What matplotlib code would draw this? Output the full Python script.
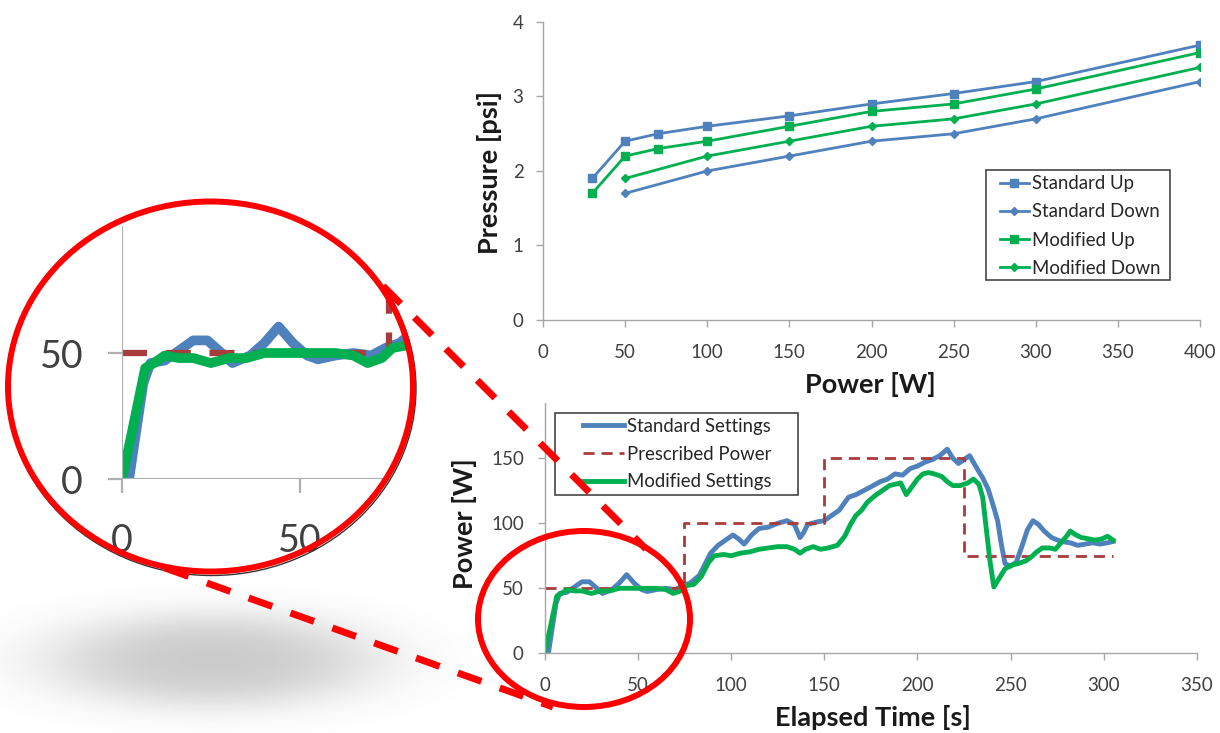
import numpy as np
import matplotlib
matplotlib.use('Agg')
import matplotlib.pyplot as plt
from matplotlib.patches import Ellipse, Rectangle
from matplotlib.lines import Line2D

plt.rcParams['font.family'] = ['Lato', 'DejaVu Sans']

# ---------------- data: pressure vs power ----------------
power_std_up = [30, 50, 70, 100, 150, 200, 250, 300, 400]
pres_std_up = [1.9, 2.4, 2.5, 2.6, 2.74, 2.9, 3.04, 3.2, 3.69]
power_std_down = [50, 100, 150, 200, 250, 300, 400]
pres_std_down = [1.7, 2.0, 2.2, 2.4, 2.5, 2.7, 3.2]
power_mod_up = [30, 50, 70, 100, 150, 200, 250, 300, 400]
pres_mod_up = [1.7, 2.2, 2.3, 2.4, 2.6, 2.8, 2.9, 3.1, 3.59]
power_mod_down = [50, 100, 150, 200, 250, 300, 400]
pres_mod_down = [1.9, 2.2, 2.4, 2.6, 2.7, 2.9, 3.39]

# ---------------- data: power vs elapsed time ----------------
time_std = [0, 2, 6, 8, 12, 16, 20, 24, 28, 31, 36, 40, 44, 48, 52, 55, 60, 65, 70, 74,
            78, 83, 89, 93, 97, 101, 104, 107, 111, 115, 120, 125, 130, 134, 137, 139, 141, 146, 150, 154,
            158, 163, 167, 171, 175, 180, 184, 188, 192, 196, 200, 204, 208, 212, 216, 219, 222, 225, 228, 232,
            235, 238, 241, 243, 245, 247, 250, 253, 256, 259, 262, 265, 268, 272, 277, 282, 286, 290, 294, 298,
            302, 305]
power_std = [0, 0, 38, 46, 47, 51, 55, 55, 50, 46, 49, 54, 60.5, 54, 49, 47.5, 49, 50, 49, 52,
             54, 60, 77, 83, 87, 91, 88, 84, 91, 96, 97, 100, 102, 99, 89, 93, 99, 101, 102, 106,
             110, 120, 122, 125, 128, 132, 134, 138, 137, 142, 144, 147, 149, 152, 157, 150, 146, 149, 152, 142,
             135, 126, 112, 102, 84, 69, 67, 70, 82, 95, 102, 99, 94, 89, 86, 85, 83, 84, 85, 84,
             85, 86]
time_mod = [0, 3, 6.5, 9, 12, 16, 20, 25, 30, 35, 40, 45, 50, 55, 60, 65, 69, 73, 76, 80,
            84, 88, 91, 96, 100, 105, 110, 115, 120, 125, 130, 134, 137, 140, 144, 148, 152, 157, 161, 164,
            167, 170, 173, 177, 181, 185, 188, 191, 194, 197, 200, 203, 206, 209, 213, 216, 219, 223, 227, 230,
            233, 235, 237, 239, 241, 244, 247, 251, 254, 258, 261, 264, 267, 271, 274, 277, 280, 282, 285, 288,
            292, 295, 299, 302, 305]
power_mod = [0, 20, 44, 46, 49, 48, 48, 46, 48, 48, 50, 50, 50, 50, 50, 49, 46, 48, 52, 53,
             59, 70, 75, 76, 75, 77, 78, 80, 81, 82, 82, 80, 77, 80, 82, 80, 81, 83, 90, 99,
             106, 110, 116, 121, 125, 129, 130, 131, 122, 128, 134, 138, 139, 138, 136, 132, 129, 129, 131, 134,
             130, 120, 95, 70, 51, 58, 65, 68, 69, 71, 74, 78, 81, 81, 80, 85, 90, 94, 91, 89,
             88, 87, 88, 90, 87]
time_presc = [0, 75, 75, 150, 150, 225, 225, 305]
power_presc = [50, 50, 100, 100, 150, 150, 75, 75]

BLUE = '#4F81BD'
GREEN = '#00B050'
DRED = '#A83C3C'
AXC = '#A6A6A6'
TXT = '#404040'
LBL = '#1a1a1a'

W, H = 1220, 733
fig = plt.figure(figsize=(W / 100, H / 100), dpi=100)
fig.patch.set_facecolor('white')


def fx(px):
    return px / W


def fy(py):
    return 1 - py / H


def style_axes(ax, fs=13.5, pad=9):
    for s in ['top', 'right']:
        ax.spines[s].set_visible(False)
    for s in ['left', 'bottom']:
        ax.spines[s].set_color(AXC)
        ax.spines[s].set_linewidth(1.0)
    ax.tick_params(direction='out', length=5, width=1, color=AXC,
                   labelcolor=TXT, labelsize=fs, pad=pad)
    ax.patch.set_visible(False)


def frame_box(x0, y0, x1, y1):
    fig.add_artist(Rectangle((fx(x0), fy(y1)), (x1 - x0) / W, (y1 - y0) / H,
                             transform=fig.transFigure, fill=False,
                             edgecolor='#454545', lw=1.2, zorder=3))


# ---------------- shadow (decoration) ----------------
sw, sh = 480, 180
yy, xx = np.mgrid[0:sh, 0:sw]
d = np.sqrt(((xx - 212) / 168.0) ** 2 + ((yy - 100) / 48.0) ** 2)
alpha = 0.36 * np.exp(-d ** 3)
img = np.zeros((sh, sw, 4))
img[..., :3] = 0.45
img[..., 3] = alpha
fig.figimage(img, xo=0, yo=H - 560 - sh, origin='upper', zorder=0)

# ---------------- top chart ----------------
ax1 = fig.add_axes([fx(543), fy(320), fx(1200 - 543), (320 - 22) / H])
style_axes(ax1)
l1, = ax1.plot(power_std_up, pres_std_up, color=BLUE, lw=2, marker='s', ms=6, label='Standard Up')
l2, = ax1.plot(power_std_down, pres_std_down, color=BLUE, lw=2, marker='D', ms=4.5, label='Standard Down')
l3, = ax1.plot(power_mod_up, pres_mod_up, color=GREEN, lw=2, marker='s', ms=6, label='Modified Up')
l4, = ax1.plot(power_mod_down, pres_mod_down, color=GREEN, lw=2, marker='D', ms=4.5, label='Modified Down')
ax1.set_xlim(0, 400)
ax1.set_ylim(0, 4)
ax1.set_xticks(range(0, 401, 50))
ax1.set_yticks(range(0, 5))
ax1.tick_params(axis='x', pad=12)
ax1.set_xlabel('Power [W]', fontsize=19.5, fontweight='bold', color=LBL)
ax1.xaxis.set_label_coords(fx(870), fy(372), transform=fig.transFigure)
ax1.set_ylabel('Pressure [psi]', fontsize=19.5, fontweight='bold', color=LBL)
ax1.yaxis.set_label_coords(fx(502), fy(172), transform=fig.transFigure)
leg1 = ax1.legend(handles=[l1, l2, l3, l4], loc='center left',
                  bbox_to_anchor=(fx(1000), fy(226)), bbox_transform=fig.transFigure,
                  borderaxespad=0, borderpad=0, frameon=False,
                  fontsize=13.4, handlelength=1.55, handletextpad=0.15, labelspacing=0.6)
for t in leg1.get_texts():
    t.set_color('#262626')
frame_box(985.7, 170, 1170, 280)

# ---------------- bottom chart ----------------
ax2 = fig.add_axes([fx(544.7), fy(653.3), fx(1197 - 544.7), (653.3 - 403) / H])
style_axes(ax2, pad=10)
b1, = ax2.plot(time_std, power_std, color=BLUE, lw=3.5, label='Standard Settings')
b2, = ax2.plot(time_presc, power_presc, color=DRED, lw=2, linestyle=(0, (4, 2.5)), label='Prescribed Power')
b3, = ax2.plot(time_mod, power_mod, color=GREEN, lw=3.5, label='Modified Settings')
ax2.set_xlim(0, 350)
ax2.set_ylim(0, 192.5)
ax2.set_xticks(range(0, 351, 50))
ax2.set_yticks([0, 50, 100, 150])
ax2.tick_params(axis='x', pad=12)
ax2.set_xlabel('Elapsed Time [s]', fontsize=19.5, fontweight='bold', color=LBL)
ax2.xaxis.set_label_coords(fx(873), fy(705), transform=fig.transFigure)
ax2.set_ylabel('Power [W]', fontsize=19.5, fontweight='bold', color=LBL)
ax2.yaxis.set_label_coords(fx(477), fy(524), transform=fig.transFigure)
leg2 = ax2.legend(handles=[b1, b2, b3], loc='center left',
                  bbox_to_anchor=(fx(583), fy(454)), bbox_transform=fig.transFigure,
                  borderaxespad=0, borderpad=0, frameon=False,
                  fontsize=13.4, handlelength=2.2, handletextpad=0.17, labelspacing=0.58)
for t in leg2.get_texts():
    t.set_color('#262626')
frame_box(555, 413, 798, 495)

# ---------------- magnified inset ----------------
cx, cy, ew, eh = 210.5, 386.5, 405, 370
clip = Ellipse((fx(cx), fy(cy)), ew / W, eh / H, transform=fig.transFigure)
axi = fig.add_axes([fx(122), fy(479), fx(290), 253 / H])
axi.patch.set_visible(False)
for s in ['top', 'right']:
    axi.spines[s].set_visible(False)
for s in ['left', 'bottom']:
    axi.spines[s].set_color('#B0B0B0')
    axi.spines[s].set_linewidth(1.6)
    axi.spines[s].set_clip_path(clip)
axi.set_xlim(0, 290 / 3.56)
axi.set_ylim(0, 253 / 2.52)
axi.set_xticks([0, 50])
axi.set_yticks([0, 50])
axi.tick_params(direction='out', length=10, width=1.6, color='#B0B0B0',
                labelcolor=TXT, labelsize=27)
axi.tick_params(axis='y', pad=18)
axi.tick_params(axis='x', pad=22)
i1, = axi.plot(time_std, power_std, color=BLUE, lw=7)
i2, = axi.plot(time_presc, power_presc, color=DRED, lw=4.5, linestyle=(0, (4, 3)))
i3, = axi.plot(time_mod, power_mod, color=GREEN, lw=7)
for ln in (i1, i2, i3):
    ln.set_clip_path(clip)

# ---------------- circles and connectors ----------------
fig.add_artist(Ellipse((fx(cx + 1), fy(cy + 2)), (ew + 4) / W, (eh + 4) / H,
                       transform=fig.transFigure, fill=False, edgecolor='#333333',
                       lw=1.0, zorder=9))
fig.add_artist(Ellipse((fx(cx), fy(cy)), ew / W, eh / H, transform=fig.transFigure,
                       fill=False, edgecolor='#FF0000', lw=4.3, zorder=10))
fig.add_artist(Ellipse((fx(584), fy(619)), 212 / W, 176 / H, transform=fig.transFigure,
                       fill=False, edgecolor='#FF0000', lw=4.3, zorder=10))
for (x0, y0, x1, y1) in [(383, 286, 646, 549), (165, 568, 553, 707)]:
    fig.add_artist(Line2D([fx(x0), fx(x1)], [fy(y0), fy(y1)], transform=fig.transFigure,
                          color='#FF0000', lw=5, linestyle=(0, (3.6, 2.8)),
                          solid_capstyle='butt', zorder=10))

fig.savefig('out.png', dpi=100, facecolor='white')
